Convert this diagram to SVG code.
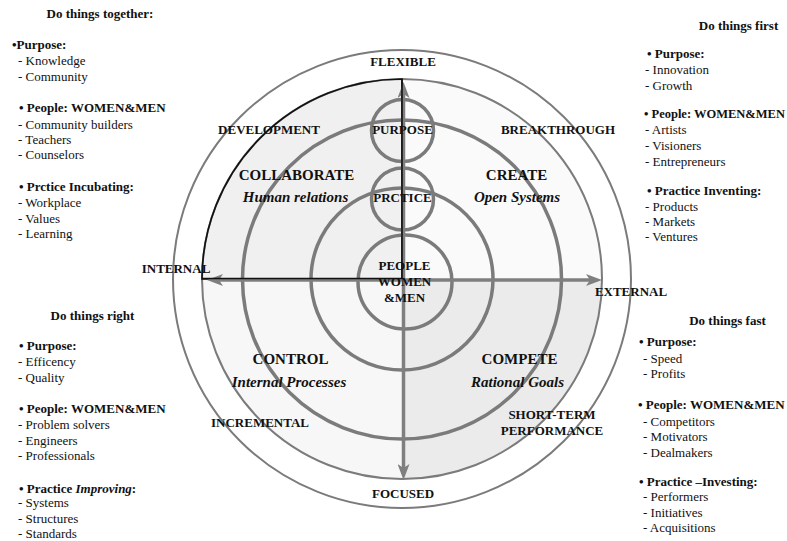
<svg xmlns="http://www.w3.org/2000/svg" width="787" height="541" viewBox="0 0 787 541">
  <style>
    text { font-family: "Liberation Serif", "Times New Roman", serif; fill: #111; }
    .side { font-size: 13px; }
    .b { font-weight: bold; }
    .head { font-size: 13px; font-weight: bold; text-anchor: middle; }
    .axis { font-size: 13px; font-weight: bold; text-anchor: middle; }
    .quad { font-size: 15px; font-weight: bold; text-anchor: middle; }
    .sub { font-size: 15px; font-weight: bold; font-style: italic; text-anchor: middle; }
    .ring { fill: none; stroke: #7b7b7b; stroke-width: 3.5; }
    .thin { fill: none; stroke: #7b7b7b; stroke-width: 2; }
    .arrow { stroke: #7f7f7f; stroke-width: 3.5; fill: none; marker-start: url(#head); marker-end: url(#head); }
  </style>
  <defs>
    <marker id="head" viewBox="0 0 16 12" refX="6" refY="6" markerWidth="16" markerHeight="12" markerUnits="userSpaceOnUse" orient="auto-start-reverse">
      <path d="M0,0 L16,6 L0,12 L4,6 Z" fill="#7f7f7f"/>
    </marker>
  </defs>
  <rect width="787" height="541" fill="#fff"/>

  <!-- quadrant fills -->
  <g id="quadrants">
    <path d="M402,279 L402,79 A200,200 0 0 1 602,279 Z" fill="#fafafa"/>
    <path d="M402,279 L602,279 A200,200 0 0 1 402,479 Z" fill="#ebebeb"/>
    <path d="M402,279 L402,479 A200,200 0 0 1 202,279 Z" fill="#f7f7f7"/>
    <path d="M402,279 L202,279 A200,200 0 0 1 402,79 Z" fill="#f0f0f0"/>
  </g>

  <!-- rings -->
  <g id="rings">
    <circle class="thin" cx="402" cy="279" r="229"/>
    <circle class="thin" cx="402" cy="279" r="200"/>
    <path d="M402,279 L202,279 A200,200 0 0 1 402,79 Z" fill="none" stroke="#111" stroke-width="1.6"/>
    <circle class="ring" cx="402" cy="279.5" r="159.5"/>
    <circle class="ring" cx="402" cy="279" r="91"/>
  </g>

  <g id="node-purpose"><circle class="ring" cx="402.5" cy="130.5" r="31"/></g>
  <g id="node-practice"><circle class="ring" cx="402.5" cy="199" r="31"/></g>
  <g id="node-people"><circle class="ring" cx="405" cy="282" r="47"/></g>

  <!-- axes -->
  <g id="connectors">
    <line class="arrow" x1="403.5" y1="92" x2="403.5" y2="470"/>
    <line class="arrow" x1="217" y1="280" x2="592" y2="280"/>
    <line x1="402" y1="79" x2="402" y2="279" stroke="#111" stroke-width="1.6"/>
    <line x1="202" y1="278.5" x2="402" y2="278.5" stroke="#111" stroke-width="1.6"/>
  </g>

  <!-- labels on the circle -->
  <g id="labels">
    <text class="axis" x="403" y="66">FLEXIBLE</text>
    <text class="axis" x="403" y="498">FOCUSED</text>
    <text class="axis" x="176" y="273">INTERNAL</text>
    <text class="axis" x="631" y="296">EXTERNAL</text>
    <text class="axis" x="269" y="134">DEVELOPMENT</text>
    <text class="axis" x="558" y="134">BREAKTHROUGH</text>
    <text class="axis" x="260" y="427">INCREMENTAL</text>
    <text class="axis" x="552" y="419">SHORT-TERM</text>
    <text class="axis" x="552" y="435">PERFORMANCE</text>
    <text class="axis" x="402.5" y="134">PURPOSE</text>
    <text class="axis" x="402.5" y="202">PRCTICE</text>
    <text class="axis" x="404.5" y="270">PEOPLE</text>
    <text class="axis" x="404.5" y="286">WOMEN</text>
    <text class="axis" x="404.5" y="302">&amp;MEN</text>
    <text class="quad" x="296.5" y="180">COLLABORATE</text>
    <text class="sub" x="295.5" y="202">Human relations</text>
    <text class="quad" x="516.5" y="180">CREATE</text>
    <text class="sub" x="517" y="202">Open Systems</text>
    <text class="quad" x="290.5" y="364">CONTROL</text>
    <text class="sub" x="289" y="387">Internal Processes</text>
    <text class="quad" x="519.5" y="364">COMPETE</text>
    <text class="sub" x="517.5" y="387">Rational Goals</text>
  </g>

  <!-- top-left notes -->
  <g id="notes-together" class="side">
    <text class="head" x="100" y="18">Do things together:</text>
    <text class="b" x="12" y="49">•Purpose:</text>
    <text x="18" y="65">- Knowledge</text>
    <text x="18" y="81">- Community</text>
    <text class="b" x="19" y="112">• People: WOMEN&amp;MEN</text>
    <text x="18" y="129">- Community builders</text>
    <text x="18" y="144">- Teachers</text>
    <text x="18" y="159">- Counselors</text>
    <text class="b" x="19" y="191">• Prctice Incubating:</text>
    <text x="18" y="207">- Workplace</text>
    <text x="18" y="223">- Values</text>
    <text x="18" y="238">- Learning</text>
  </g>

  <!-- top-right notes -->
  <g id="notes-first" class="side">
    <text class="head" x="738.5" y="30">Do things first</text>
    <text class="b" x="647" y="58">• Purpose:</text>
    <text x="645" y="74">- Innovation</text>
    <text x="645" y="90">- Growth</text>
    <text class="b" x="644" y="118" font-size="12.5">• People: WOMEN&amp;MEN</text>
    <text x="645" y="134">- Artists</text>
    <text x="645" y="150">- Visioners</text>
    <text x="645" y="166">- Entrepreneurs</text>
    <text class="b" x="647" y="195">• Practice Inventing:</text>
    <text x="645" y="211">- Products</text>
    <text x="645" y="226">- Markets</text>
    <text x="645" y="241">- Ventures</text>
  </g>

  <!-- bottom-left notes -->
  <g id="notes-right" class="side">
    <text class="head" x="92.5" y="320">Do things right</text>
    <text class="b" x="19" y="350">• Purpose:</text>
    <text x="18" y="366">- Efficency</text>
    <text x="18" y="382">- Quality</text>
    <text class="b" x="19" y="413">• People: WOMEN&amp;MEN</text>
    <text x="18" y="429">- Problem solvers</text>
    <text x="18" y="445">- Engineers</text>
    <text x="18" y="460">- Professionals</text>
    <text class="b" x="19" y="493">• Practice <tspan font-style="italic">Improving</tspan>:</text>
    <text x="18" y="507">- Systems</text>
    <text x="18" y="523">- Structures</text>
    <text x="18" y="538">- Standards</text>
  </g>

  <!-- bottom-right notes -->
  <g id="notes-fast" class="side">
    <text class="head" x="727.5" y="325">Do things fast</text>
    <text class="b" x="639" y="346">• Purpose:</text>
    <text x="643" y="363">- Speed</text>
    <text x="643" y="378">- Profits</text>
    <text class="b" x="638" y="409">• People: WOMEN&amp;MEN</text>
    <text x="643" y="426">- Competitors</text>
    <text x="643" y="441">- Motivators</text>
    <text x="643" y="457">- Dealmakers</text>
    <text class="b" x="639" y="486">• Practice –Investing:</text>
    <text x="643" y="501">- Performers</text>
    <text x="643" y="517">- Initiatives</text>
    <text x="643" y="532">- Acquisitions</text>
  </g>
</svg>
